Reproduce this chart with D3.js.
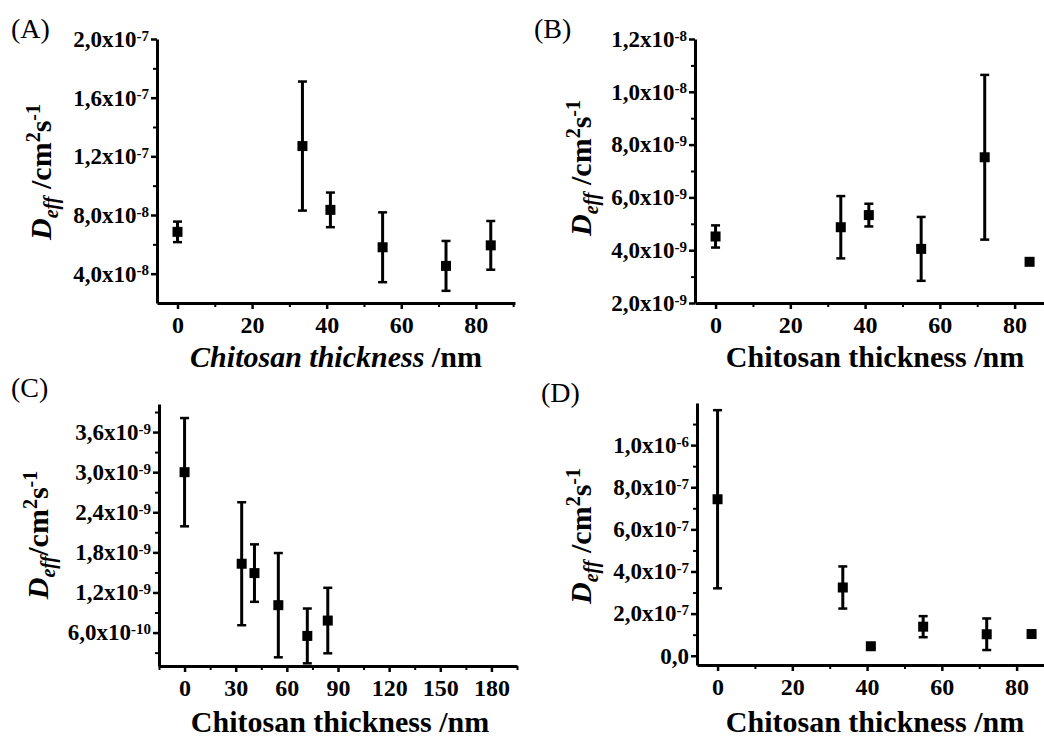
<!DOCTYPE html>
<html>
<head>
<meta charset="utf-8">
<script src="https://cdn.jsdelivr.net/npm/d3@7"></script>
<style>
body { margin: 0; background: #fff; }
</style>
</head>
<body>
<div id="chart"></div>
<script>
var svgWidth = 1044;
var svgHeight = 738;
var serif = "Liberation Serif";

// chitosan thickness (nm), same for every panel
var thickness = [0, 33.5, 41, 55, 72, 84];

// D_eff values and error bars
var deffA = [6.85e-8, 1.27e-7, 8.35e-8, 5.8e-8, 4.53e-8, 5.93e-8];
var errA  = [0.7e-8, 4.4e-8, 1.18e-8, 2.38e-8, 1.7e-8, 1.66e-8];

var deffB = [4.52e-9, 4.87e-9, 5.33e-9, 4.05e-9, 7.52e-9, 3.56e-9];
var errB  = [0.42e-9, 1.18e-9, 0.43e-9, 1.21e-9, 3.12e-9, 0.08e-9];

var deffC = [3.0e-9, 1.63e-9, 1.49e-9, 1.01e-9, 5.5e-10, 7.8e-10];
var errC  = [0.81e-9, 0.92e-9, 0.43e-9, 0.78e-9, 0.41e-9, 0.49e-9];

var deffD = [7.43e-7, 3.24e-7, 4.5e-8, 1.38e-7, 1.02e-7, 1.03e-7];
var errD  = [4.23e-7, 1.0e-7, 0.8e-8, 5.0e-8, 7.5e-8, 0.8e-8];

// tick values
var xTicks = [0, 20, 40, 60, 80];
var xMinor = [10, 30, 50, 70, 90];
var xTicksC = [0, 30, 60, 90, 120, 150, 180];
var xMinorC = [-15, 15, 45, 75, 105, 135, 165, 195];

var yTicksA = [4e-8, 8e-8, 1.2e-7, 1.6e-7, 2e-7];
var yMinorA = [6e-8, 1e-7, 1.4e-7, 1.8e-7];
var yTicksB = [2e-9, 4e-9, 6e-9, 8e-9, 1e-8, 1.2e-8];
var yMinorB = [3e-9, 5e-9, 7e-9, 9e-9, 1.1e-8];
var yTicksC = [6e-10, 1.2e-9, 1.8e-9, 2.4e-9, 3.0e-9, 3.6e-9];
var yMinorC = [3e-10, 9e-10, 1.5e-9, 2.1e-9, 2.7e-9, 3.3e-9, 3.9e-9];
var yTicksD = [0, 2e-7, 4e-7, 6e-7, 8e-7, 1e-6];
var yMinorD = [1e-7, 3e-7, 5e-7, 7e-7, 9e-7, 1.1e-6];

var panelLabels = ["(A)", "(B)", "(C)", "(D)"];
var xTitle = "Chitosan thickness";

var svg = d3.select("#chart")
    .append("svg")
    .attr("width", svgWidth)
    .attr("height", svgHeight)
    .attr("font-family", serif);

// "2,0x10" + exponent
function sciParts(v) {
    if (v === 0) return ["0,0", ""];
    var e = Math.floor(Math.log10(Math.abs(v)) + 1e-9);
    var m = v / Math.pow(10, e);
    return [m.toFixed(1).replace(".", ",") + "x10", String(e)];
}

var panels = [
    {label: panelLabels[0], lx: 11, ly: 38, vals: deffA, errs: errA,
     xDomain: [-5.5, 90.5], xRange: [157, 515], xt: xTicks, xm: xMinor,
     yDomain: [2e-8, 2e-7], yRange: [303, 39], yt: yTicksA, ym: yMinorA,
     titleX: 336, titleY: 367, italicX: true, yTitleX: 51, yTitleY: 172, space: true},
    {label: panelLabels[1], lx: 534, ly: 38, vals: deffB, errs: errB,
     xDomain: [-5.5, 90], xRange: [695, 1052], xt: xTicks, xm: xMinor,
     yDomain: [2e-9, 1.2e-8], yRange: [303, 39], yt: yTicksB, ym: yMinorB,
     titleX: 875, titleY: 367, italicX: false, yTitleX: 591, yTitleY: 168, space: true},
    {label: panelLabels[2], lx: 11, ly: 397, vals: deffC, errs: errC,
     xDomain: [-15, 195], xRange: [159, 517], xt: xTicksC, xm: xMinorC,
     yDomain: [1e-10, 4.02e-9], yRange: [666, 404], yt: yTicksC, ym: yMinorC,
     titleX: 340, titleY: 732, italicX: false, yTitleX: 48, yTitleY: 535, space: false},
    {label: panelLabels[3], lx: 541, ly: 402, vals: deffD, errs: errD,
     xDomain: [-5.5, 90], xRange: [697, 1054], xt: xTicks, xm: xMinor,
     yDomain: [-4.4e-8, 1.2e-6], yRange: [665, 403], yt: yTicksD, ym: yMinorD,
     titleX: 875, titleY: 732, italicX: false, yTitleX: 591, yTitleY: 536, space: true}
];

panels.forEach(function(p) {
    var g = svg.append("g");

    var xScale = d3.scaleLinear().domain(p.xDomain).range(p.xRange);
    var yScale = d3.scaleLinear().domain(p.yDomain).range(p.yRange);
    var x0 = p.xRange[0], y0 = p.yRange[0];

    // minor ticks first
    g.append("g")
        .attr("transform", `translate(0,${y0})`)
        .call(d3.axisBottom(xScale).tickValues(p.xm).tickSize(4).tickFormat(""))
        .call(a => a.select(".domain").remove())
        .selectAll("line").attr("stroke-width", 2);

    g.append("g")
        .attr("transform", `translate(${x0},0)`)
        .call(d3.axisLeft(yScale).tickValues(p.ym).tickSize(4).tickFormat(""))
        .call(a => a.select(".domain").remove())
        .selectAll("line").attr("stroke-width", 2);

    var xAxis = g.append("g")
        .attr("transform", `translate(0,${y0})`)
        .call(d3.axisBottom(xScale).tickValues(p.xt).tickSize(6).tickSizeOuter(0).tickPadding(7));
    xAxis.attr("font-family", serif);
    xAxis.select(".domain").attr("stroke-width", 3);
    xAxis.selectAll("line").attr("stroke-width", 2.5);
    xAxis.selectAll("text")
        .attr("font-size", 24)
        .attr("font-weight", "bold")
        .attr("font-family", serif);

    var yAxis = g.append("g")
        .attr("transform", `translate(${x0},0)`)
        .call(d3.axisLeft(yScale).tickValues(p.yt).tickSize(6).tickSizeOuter(0).tickPadding(2));
    yAxis.attr("font-family", serif);
    yAxis.select(".domain").attr("stroke-width", 3);
    yAxis.selectAll("line").attr("stroke-width", 2.5);
    yAxis.selectAll("text")
        .attr("font-size", 23)
        .attr("font-weight", "bold")
        .attr("font-family", serif)
        .text("")
        .each(function(d) {
            var parts = sciParts(d);
            var t = d3.select(this);
            t.append("tspan").text(parts[0]);
            if (parts[1]) {
                t.append("tspan").attr("dy", "-0.42em").attr("font-size", 15).text(parts[1]);
            }
        });

    // error bars
    var bars = g.selectAll(".err")
        .data(thickness)
        .enter()
        .append("g")
        .attr("class", "err");

    bars.append("line")
        .attr("x1", d => xScale(d))
        .attr("x2", d => xScale(d))
        .attr("y1", (d, i) => yScale(p.vals[i] - p.errs[i]))
        .attr("y2", (d, i) => yScale(p.vals[i] + p.errs[i]))
        .attr("stroke", "#000")
        .attr("stroke-width", 3);

    [-1, 1].forEach(function(s) {
        bars.append("line")
            .attr("x1", d => xScale(d) - 4.5)
            .attr("x2", d => xScale(d) + 4.5)
            .attr("y1", (d, i) => yScale(p.vals[i] + s * p.errs[i]))
            .attr("y2", (d, i) => yScale(p.vals[i] + s * p.errs[i]))
            .attr("stroke", "#000")
            .attr("stroke-width", 2.5);
    });

    g.selectAll(".pt")
        .data(thickness)
        .enter()
        .append("rect")
        .attr("class", "pt")
        .attr("x", d => xScale(d) - 5)
        .attr("y", (d, i) => yScale(p.vals[i]) - 5)
        .attr("width", 10)
        .attr("height", 10)
        .attr("fill", "#000");

    // panel letter
    g.append("text")
        .attr("x", p.lx)
        .attr("y", p.ly)
        .attr("font-family", serif)
        .attr("font-size", 28)
        .text(p.label);

    // x title
    var xt = g.append("text")
        .attr("x", p.titleX)
        .attr("y", p.titleY)
        .attr("text-anchor", "middle")
        .attr("font-family", serif)
        .attr("font-size", 30)
        .attr("font-weight", "bold");
    xt.append("tspan").attr("font-style", p.italicX ? "italic" : "normal").text(xTitle);
    xt.append("tspan").text(" /nm");

    // y title
    var yt = g.append("text")
        .attr("transform", `translate(${p.yTitleX},${p.yTitleY}) rotate(-90)`)
        .attr("text-anchor", "middle")
        .attr("font-family", serif)
        .attr("font-size", 30)
        .attr("font-weight", "bold");
    yt.append("tspan").attr("font-style", "italic").text("D");
    yt.append("tspan").attr("font-style", "italic").attr("font-size", 20).attr("dy", 7).text("eff");
    yt.append("tspan").attr("dy", -7).text(p.space ? " /cm" : "/cm");
    yt.append("tspan").attr("font-size", 20).attr("dy", -11).text("2");
    yt.append("tspan").attr("dy", 11).text("s");
    yt.append("tspan").attr("font-size", 20).attr("dy", -11).text("-1");
});
</script>
</body>
</html>
